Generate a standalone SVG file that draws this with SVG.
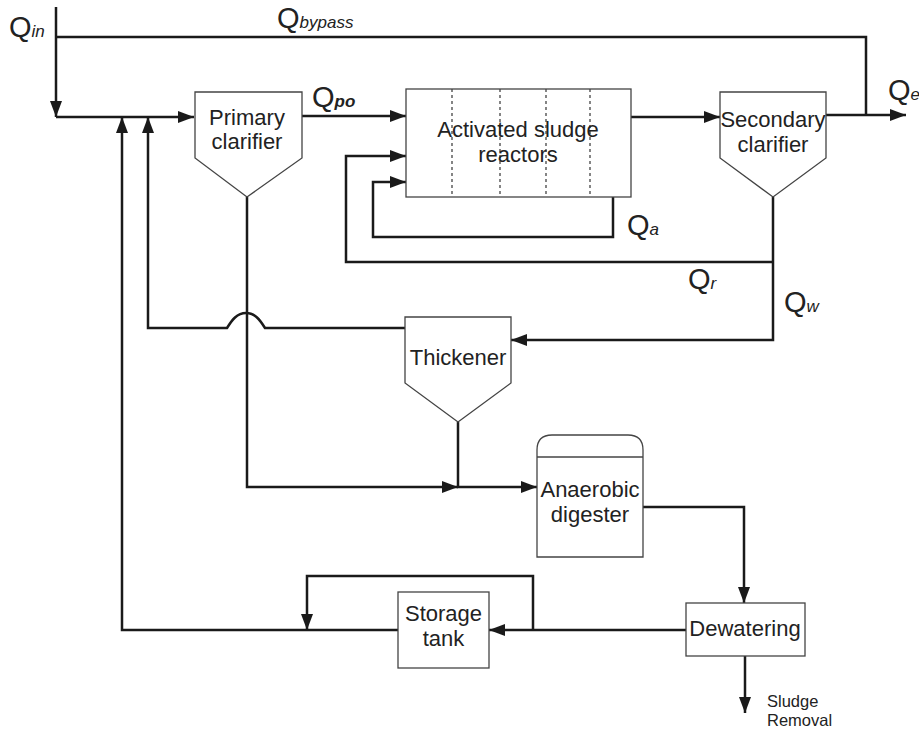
<svg xmlns="http://www.w3.org/2000/svg" width="919" height="732" viewBox="0 0 919 732">
<style>
.node{fill:#fff;stroke:#444;stroke-width:1.3}
.dot{stroke:#444;stroke-width:1.3;stroke-dasharray:3,3;fill:none}
.c{fill:none;stroke:#1a1a1a;stroke-width:2.5;stroke-linejoin:miter}
.a{marker-end:url(#arr)}
text{font-family:"Liberation Sans",Arial,sans-serif;fill:#222}
.t{font-size:22px;text-anchor:middle}
.q{font-size:29px}
.s{font-size:17px;font-style:italic}
.sm{font-size:16.5px}
</style>
<defs>
<marker id="arr" markerUnits="userSpaceOnUse" markerWidth="16" markerHeight="12" refX="16" refY="6" orient="auto">
<path d="M0,0 L16,6 L0,12 z" fill="#1a1a1a"/>
</marker>
</defs>
<g id="connectors">
<path class="c a" d="M56,7 V117"/>
<path class="c" d="M56,37 H866 V115"/>
<path class="c a" d="M56,117 H194"/>
<path class="c a" d="M302,116 H406"/>
<path class="c a" d="M631,117 H720"/>
<path class="c a" d="M826,115 H906"/>
<path class="c a" d="M773,197 V340 H511"/>
<path class="c a" d="M773,262 H346 V156 H406"/>
<path class="c a" d="M613,197 V237 H373 V182 H406"/>
<path class="c a" d="M405,328 H265 C260,320 255,313 246,313 C237,313 232,320 227,328 H148 V117"/>
<path class="c a" d="M247,197 V487 H458"/>
<path class="c a" d="M458,422 V487 H537"/>
<path class="c a" d="M643,507 H744 V603"/>
<path class="c a" d="M745,656 V713"/>
<path class="c a" d="M686,630 H489"/>
<path class="c a" d="M398,630 H122 V117"/>
<path class="c a" d="M533,630 V576 H307 V630"/>
</g>
<g id="primary-clarifier">
<polygon class="node" points="195,92 302,92 302,158 247,197 195,158"/>
<text class="t" x="247" y="125">Primary</text>
<text class="t" x="247" y="149">clarifier</text>
</g>
<g id="activated-sludge-reactors">
<rect class="node" x="406" y="89" width="225" height="108"/>
<path class="dot" d="M452,89 V197 M500,89 V197 M546,89 V197 M590,89 V197"/>
<text class="t" x="518" y="137">Activated sludge</text>
<text class="t" x="518" y="162">reactors</text>
</g>
<g id="secondary-clarifier">
<polygon class="node" points="720,92 826,92 826,158 773,197 720,158"/>
<text class="t" x="773" y="127">Secondary</text>
<text class="t" x="773" y="152">clarifier</text>
</g>
<g id="thickener">
<polygon class="node" points="405,317 511,317 511,383 458,422 405,383"/>
<text class="t" x="458" y="365">Thickener</text>
</g>
<g id="anaerobic-digester">
<path class="node" d="M537,557 V450 Q537,435 552,435 H628 Q643,435 643,450 V557 Z"/>
<line x1="537" y1="457" x2="643" y2="457" stroke="#444" stroke-width="1.3"/>
<text class="t" x="590" y="497">Anaerobic</text>
<text class="t" x="590" y="522">digester</text>
</g>
<g id="dewatering">
<rect class="node" x="686" y="603" width="119" height="53"/>
<text class="t" x="745" y="636">Dewatering</text>
</g>
<g id="storage-tank">
<rect class="node" x="398" y="592" width="91" height="76"/>
<text class="t" x="443.5" y="621">Storage</text>
<text class="t" x="443.5" y="646">tank</text>
</g>
<g id="labels">
<text x="9" y="37"><tspan class="q">Q</tspan><tspan class="s">in</tspan></text>
<text x="277" y="28"><tspan class="q">Q</tspan><tspan class="s">bypass</tspan></text>
<text x="312" y="107"><tspan class="q">Q</tspan><tspan class="s" font-weight="bold">po</tspan></text>
<text x="888" y="100"><tspan class="q">Q</tspan><tspan class="s">e</tspan></text>
<text x="627" y="235"><tspan class="q">Q</tspan><tspan class="s">a</tspan></text>
<text x="688" y="289"><tspan class="q">Q</tspan><tspan class="s">r</tspan></text>
<text x="784" y="312"><tspan class="q">Q</tspan><tspan class="s">w</tspan></text>
<text class="sm" x="767" y="707">Sludge</text>
<text class="sm" x="767" y="726">Removal</text>
</g>
</svg>
